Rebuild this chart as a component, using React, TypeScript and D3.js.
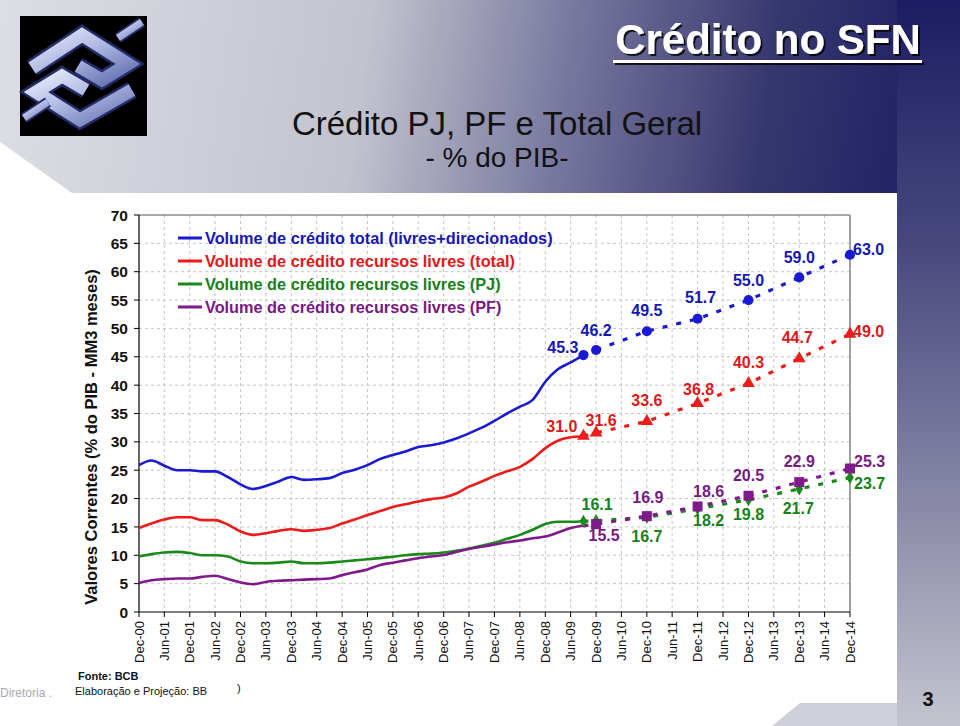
import React from "react";
import * as d3 from "d3";

// ---------- DATA ----------
const histDates = [
  "Dec-00","Mar-01","Jun-01","Sep-01","Dec-01","Mar-02","Jun-02","Sep-02","Dec-02","Mar-03",
  "Jun-03","Sep-03","Dec-03","Mar-04","Jun-04","Sep-04","Dec-04","Mar-05","Jun-05","Sep-05",
  "Dec-05","Mar-06","Jun-06","Sep-06","Dec-06","Mar-07","Jun-07","Sep-07","Dec-07","Mar-08",
  "Jun-08","Sep-08","Dec-08","Mar-09","Jun-09","Sep-09",
];
const histTotal = [
  25.9,26.7,25.8,25.0,25.0,24.8,24.8,23.8,22.5,21.7,
  22.2,23.0,23.8,23.3,23.4,23.6,24.5,25.1,25.9,27.0,
  27.7,28.3,29.1,29.4,29.9,30.6,31.5,32.5,33.7,35.0,
  36.2,37.4,40.6,42.8,44.0,45.3,
];
const histLivres = [
  14.8,15.6,16.3,16.7,16.7,16.2,16.2,15.4,14.2,13.6,
  13.9,14.3,14.6,14.3,14.5,14.8,15.6,16.3,17.1,17.8,
  18.5,19.0,19.5,19.9,20.2,20.9,22.1,23.0,24.0,24.8,
  25.6,27.0,28.9,30.2,30.8,31.0,
];
const histPJ = [
  9.8,10.2,10.5,10.6,10.4,10.0,10.0,9.8,8.9,8.6,
  8.6,8.7,8.9,8.6,8.6,8.7,8.9,9.1,9.3,9.5,
  9.75,10.0,10.2,10.3,10.5,10.8,11.2,11.7,12.2,12.9,
  13.6,14.5,15.5,15.9,15.9,16.0,
];
const histPF = [
  5.1,5.6,5.8,5.9,5.9,6.2,6.4,5.8,5.2,4.9,
  5.3,5.5,5.6,5.7,5.8,5.9,6.5,7.0,7.5,8.3,
  8.7,9.1,9.5,9.8,10.05,10.6,11.1,11.5,11.9,12.3,
  12.6,13.0,13.3,14.0,14.8,15.2,
];

const projDates = ["Dec-09","Dec-10","Dec-11","Dec-12","Dec-13","Dec-14"];
const projTotal = [46.2,49.5,51.7,55.0,59.0,63.0];
const projLivres = [31.6,33.6,36.8,40.3,44.7,49.0];
const projPJ = [16.1,16.7,18.2,19.8,21.7,23.7];
const projPF = [15.5,16.9,18.6,20.5,22.9,25.3];

const xTickLabels = [
  "Dec-00","Jun-01","Dec-01","Jun-02","Dec-02","Jun-03","Dec-03","Jun-04","Dec-04","Jun-05",
  "Dec-05","Jun-06","Dec-06","Jun-07","Dec-07","Jun-08","Dec-08","Jun-09","Dec-09","Jun-10",
  "Dec-10","Jun-11","Dec-11","Jun-12","Dec-12","Jun-13","Dec-13","Jun-14","Dec-14",
];
const yTicks = [0,5,10,15,20,25,30,35,40,45,50,55,60,65,70];

const legendLabels = [
  "Volume de crédito total (livres+direcionados)",
  "Volume de crédito recursos livres (total)",
  "Volume de crédito recursos livres (PJ)",
  "Volume de crédito recursos livres (PF)",
];

// ---------- LAYOUT / STYLE ----------
const FONT = "'Liberation Sans', Arial, Helvetica, sans-serif";
const colors = ["#1a1ad2", "#ee1b1b", "#1b8a1b", "#7f1a8a"];
const textColors = ["#1616b8", "#e01818", "#17801a", "#761a82"];
const markerTypes = [d3.symbolCircle, d3.symbolTriangle, d3.symbolDiamond, d3.symbolSquare];
const markerSizes = [80, 70, 50, 100];
const showHistEndMarker = [true, true, true, false];
// label offsets [dx, dy, anchor]: first = last historical point, then projections
const labelOffsets: ([number, number, string] | null)[][] = [
  [[-5,-2,"end"],[0,-14,"middle"],[0,-15,"middle"],[3,-16,"middle"],[0,-14,"middle"],[0,-14,"middle"],[3,0,"start"]],
  [[-6,-4,"end"],[5,-7,"middle"],[0,-15,"middle"],[1,-8,"middle"],[0,-15,"middle"],[-2,-15,"middle"],[3,3,"start"]],
  [null,[1,-11,"middle"],[0,25,"middle"],[11,17,"middle"],[0,20,"middle"],[-1,25,"middle"],[4,11,"start"]],
  [null,[8,17,"middle"],[1,-13,"middle"],[11,-10,"middle"],[0,-15,"middle"],[0,-15,"middle"],[4,-2,"start"]],
];

const parse = d3.timeParse("%b-%y");

export default function App() {
  const x = d3.scaleTime()
    .domain([parse("Dec-00") as Date, parse("Dec-14") as Date])
    .range([139, 850]);
  const y = d3.scaleLinear().domain([0, 70]).range([612, 215]);

  const hist = [histTotal, histLivres, histPJ, histPF];
  const proj = [projTotal, projLivres, projPJ, projPF];
  const hd = histDates.map((d) => parse(d) as Date);
  const pd = projDates.map((d) => parse(d) as Date);

  const line = d3.line<[Date, number]>()
    .x((d) => x(d[0]))
    .y((d) => y(d[1]));
  const smooth = d3.line<[Date, number]>()
    .x((d) => x(d[0]))
    .y((d) => y(d[1]))
    .curve(d3.curveMonotoneX);

  const lastDate = hd[hd.length - 1];

  const logoPaths = [
    "M 12,52 L 62,19 L 108,48 L 82,64 L 58,50",
    "M 112,74 L 60,104 L 16,76 L 42,60 L 66,74",
  ];
  const logo = (
    <g transform="translate(20,16)">
      <rect x={0} y={0} width={127} height={120} fill="#000" />
      <defs>
        <linearGradient id="logoG" x1="0" y1="0" x2="1" y2="1">
          <stop offset="0" stopColor="#e6eafa" />
          <stop offset="0.5" stopColor="#aab4e0" />
          <stop offset="1" stopColor="#6270b0" />
        </linearGradient>
      </defs>
      {logoPaths.map((p, i) => (
        <g key={i}>
          <path d={p} fill="none" stroke="#232c66" strokeWidth={18} strokeLinejoin="miter" />
          <path d={p} fill="none" stroke="url(#logoG)" strokeWidth={13} strokeLinejoin="miter" />
        </g>
      ))}
      <path d="M 98,22 L 122,6" stroke="#232c66" strokeWidth={11} />
      <path d="M 98,22 L 122,6" stroke="url(#logoG)" strokeWidth={7} />
      <path d="M 4,102 L 28,86" stroke="#232c66" strokeWidth={11} />
      <path d="M 4,102 L 28,86" stroke="url(#logoG)" strokeWidth={7} />
    </g>
  );

  const seriesPoints = (i: number): [Date, number][] => [
    [lastDate, hist[i][hist[i].length - 1]],
    ...pd.map((d, k) => [d, proj[i][k]] as [Date, number]),
  ];

  return (
    <svg
      width={960}
      height={726}
      style={{ position: "absolute", left: 0, top: 0, display: "block" }}
      fontFamily={FONT}
    >
      <defs>
        <linearGradient id="topBand" gradientUnits="userSpaceOnUse" x1="0" y1="0" x2="960" y2="140">
          <stop offset="0" stopColor="#dddde5" />
          <stop offset="0.38" stopColor="#c3c3cf" />
          <stop offset="0.6" stopColor="#74749c" />
          <stop offset="0.8" stopColor="#36366f" />
          <stop offset="1" stopColor="#1c1c62" />
        </linearGradient>
        <linearGradient id="rightStrip" gradientUnits="userSpaceOnUse" x1="0" y1="0" x2="0" y2="726">
          <stop offset="0" stopColor="#1c1c62" />
          <stop offset="0.35" stopColor="#4a4a80" />
          <stop offset="0.7" stopColor="#8a8aa8" />
          <stop offset="1" stopColor="#c4c4d0" />
        </linearGradient>
        <filter id="shadow" x="-10%" y="-10%" width="130%" height="140%">
          <feDropShadow dx="2" dy="2" stdDeviation="0.6" floodColor="#000" floodOpacity="0.8" />
        </filter>
      </defs>

      {/* background */}
      <rect x={0} y={0} width={960} height={726} fill="#cfcfd9" />
      <rect x={0} y={0} width={960} height={200} fill="url(#topBand)" />
      <rect x={897} y={0} width={63} height={726} fill="url(#rightStrip)" />
      <polygon points="0,142 72,193 897,193 897,703 800,703 772,726 0,726" fill="#ffffff" />

      {logo}

      {/* header */}
      <g filter="url(#shadow)">
        <text x={768} y={54} textAnchor="middle" fontSize={42} fontWeight="bold" fill="#ffffff">
          Crédito no SFN
        </text>
        <rect x={613} y={60} width={309} height={3} fill="#ffffff" />
      </g>

      {/* title */}
      <text x={497} y={135} textAnchor="middle" fontSize={33} fill="#111">
        Crédito PJ, PF e Total Geral
      </text>
      <text x={497} y={167} textAnchor="middle" fontSize={28} fill="#111">
        - % do PIB-
      </text>

      {/* grid */}
      <g>
        {xTickLabels.slice(1, -1).map((t) => (
          <line key={t} x1={x(parse(t) as Date)} x2={x(parse(t) as Date)} y1={215} y2={612}
            stroke="#c4c4c4" strokeDasharray="3,3" strokeWidth={1} />
        ))}
        {yTicks.slice(1, -1).map((t) => (
          <line key={t} x1={139} x2={850} y1={y(t)} y2={y(t)}
            stroke="#c4c4c4" strokeDasharray="3,3" strokeWidth={1} />
        ))}
      </g>

      {/* frame */}
      <line x1={139} x2={850} y1={y(70)} y2={y(70)} stroke="#555" strokeWidth={1.2} />
      <line x1={850} x2={850} y1={y(70)} y2={y(0)} stroke="#a0a0a0" strokeWidth={2} />
      <line x1={139} x2={139} y1={y(70)} y2={y(0)} stroke="#000" strokeWidth={1.2} />
      <line x1={139} x2={850} y1={y(0)} y2={y(0)} stroke="#000" strokeWidth={1.2} />

      {/* y ticks */}
      {yTicks.map((t) => (
        <g key={t}>
          <line x1={134} x2={139} y1={y(t)} y2={y(t)} stroke="#000" />
          <text x={128} y={y(t)} dy="0.36em" textAnchor="end" fontSize={15.5} fontWeight="bold" fill="#111">
            {t}
          </text>
        </g>
      ))}

      {/* x ticks */}
      {xTickLabels.map((t) => {
        const xx = x(parse(t) as Date);
        return (
          <g key={t}>
            <line x1={xx} x2={xx} y1={612} y2={617} stroke="#000" />
            <text transform={`translate(${xx + 4.5},${621}) rotate(-90)`} textAnchor="end"
              fontSize={13} fill="#111">
              {t}
            </text>
          </g>
        );
      })}

      {/* y title */}
      <text transform="translate(97,437) rotate(-90)" textAnchor="middle" fontSize={16.5}
        fontWeight="bold" fill="#111">
        Valores Correntes (% do PIB - MM3 meses)
      </text>

      {/* series lines */}
      {hist.map((h, i) => {
        const hp: [Date, number][] = hd.map((d, k) => [d, h[k]]);
        return (
          <g key={i}>
            <path d={smooth(hp) || ""} fill="none" stroke={colors[i]} strokeWidth={2.6} strokeLinejoin="round" />
            <path d={line(seriesPoints(i)) || ""} fill="none" stroke={colors[i]} strokeWidth={3.2} strokeDasharray="5,9" />
          </g>
        );
      })}

      {/* markers */}
      {hist.map((h, i) => {
        const sym = d3.symbol().type(markerTypes[i]).size(markerSizes[i]);
        return (
          <g key={i}>
            {seriesPoints(i).map((p, k) =>
              k === 0 && !showHistEndMarker[i] ? null : (
                <path key={k} d={sym() || ""} fill={colors[i]}
                  transform={`translate(${x(p[0])},${y(p[1])})`} />
              )
            )}
          </g>
        );
      })}

      {/* value labels */}
      {hist.map((h, i) => (
        <g key={i}>
          {seriesPoints(i).map((p, k) => {
            const off = labelOffsets[i][k];
            if (!off) return null;
            return (
              <text key={k} x={x(p[0]) + off[0]} y={y(p[1]) + off[1]} textAnchor={off[2] as any}
                fontSize={16} fontWeight="bold" fill={textColors[i]}>
                {p[1].toFixed(1)}
              </text>
            );
          })}
        </g>
      ))}

      {/* legend */}
      {legendLabels.map((l, i) => {
        const yy = 238 + i * 23;
        return (
          <g key={l}>
            <line x1={178} x2={202} y1={yy} y2={yy} stroke={colors[i]} strokeWidth={3} />
            <text x={205} y={yy + 5.5} fontSize={16.3} fontWeight="bold" fill={textColors[i]}>
              {l}
            </text>
          </g>
        );
      })}

      {/* footer */}
      <text x={78} y={680} fontSize={11} fontWeight="bold" fill="#111">Fonte: BCB</text>
      <text x={75} y={695} fontSize={11} fill="#111">Elaboração e Projeção: BB</text>
      <text x={237} y={692} fontSize={11} fill="#111">)</text>
      <text x={0} y={697} fontSize={12} fill="#a8a8b4">Diretoria .</text>
      <text x={928} y={706} textAnchor="middle" fontSize={20} fontWeight="bold" fill="#111">3</text>
    </svg>
  );
}
